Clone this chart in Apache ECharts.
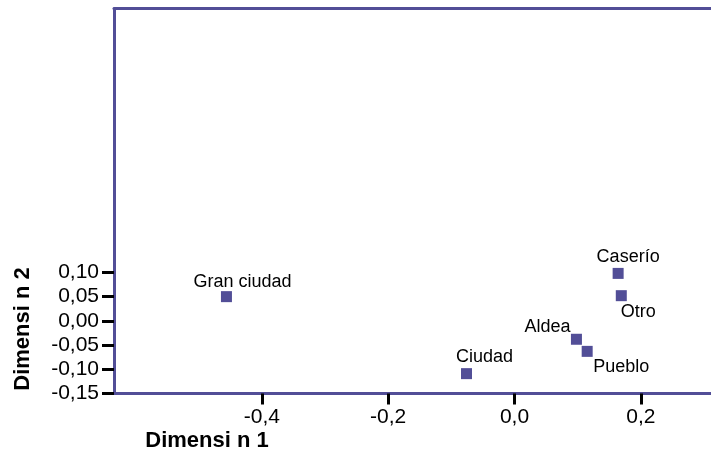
<!DOCTYPE html>
<html>
<head>
<meta charset="utf-8">
<script src="https://cdn.jsdelivr.net/npm/echarts@6/dist/echarts.min.js"></script>
<style>
  html, body { margin: 0; padding: 0; background: #fff; }
  #chart { width: 711px; height: 460px; }
</style>
</head>
<body>
<div id="chart"></div>
<script>
// Point names and their coordinates on the two dimensions
var names = ['Gran ciudad', 'Ciudad', 'Caserío', 'Otro', 'Aldea', 'Pueblo'];
var dim1 = [-0.456, -0.076, 0.164, 0.169, 0.098, 0.115];
var dim2 = [0.050, -0.109, 0.098, 0.052, -0.038, -0.063];

// Tick labels shown on each axis
var xTicks = [-0.4, -0.2, 0.0, 0.2];
var yTicks = [-0.15, -0.10, -0.05, 0.00, 0.05, 0.10];

// label placement (px, relative to the marker)
var labelOffset = {
    'Gran ciudad': [16, -15],
    'Ciudad': [18, -17],
    'Caserío': [10, -16],
    'Otro': [17, 16],
    'Aldea': [-29, -12],
    'Pueblo': [34, 16]
};

var purple = '#524e97';
var font = 'Liberation Sans';

var points = names.map(function (n, i) {
    return {
        name: n,
        value: [dim1[i], dim2[i]],
        label: { offset: labelOffset[n] }
    };
});

function comma(v, d) {
    return v.toFixed(d).replace('.', ',');
}

var frameLine = { show: true, onZero: false, lineStyle: { color: purple, width: 3 } };

var myChart = echarts.init(document.getElementById('chart'));

myChart.setOption({
    animation: false,
    grid: {
        left: 114,
        right: 0,
        top: 8.5,
        bottom: 66.5
    },
    xAxis: [
        {
            type: 'value',
            min: -0.634,
            max: 0.311,
            splitLine: { show: false },
            axisLine: frameLine,
            axisTick: {
                customValues: xTicks,
                length: 11,
                lineStyle: { color: '#000', width: 3 }
            },
            axisLabel: {
                customValues: xTicks,
                margin: 13,
                color: '#000',
                fontFamily: font,
                fontSize: 21,
                formatter: function (v) { return comma(v, 1); }
            }
        },
        {
            // top edge of the frame only
            type: 'value',
            position: 'top',
            min: -0.634,
            max: 0.311,
            splitLine: { show: false },
            axisLine: frameLine,
            axisTick: { show: false },
            axisLabel: { show: false }
        }
    ],
    yAxis: {
        type: 'value',
        min: -0.15,
        max: 0.645,
        splitLine: { show: false },
        axisLine: frameLine,
        axisTick: {
            customValues: yTicks,
            length: 12,
            lineStyle: { color: '#000', width: 3 }
        },
        axisLabel: {
            customValues: yTicks,
            margin: 15,
            color: '#000',
            fontFamily: font,
            fontSize: 21,
            formatter: function (v) { return comma(v, 2); }
        }
    },
    graphic: [
        {
            type: 'text',
            x: 207,
            y: 441,
            style: {
                text: 'Dimensi n 1',
                font: 'bold 22px "Liberation Sans"',
                fill: '#000',
                align: 'center',
                verticalAlign: 'middle'
            }
        },
        {
            type: 'text',
            x: 23,
            y: 329,
            rotation: Math.PI / 2,
            style: {
                text: 'Dimensi n 2',
                font: 'bold 22px "Liberation Sans"',
                fill: '#000',
                align: 'center',
                verticalAlign: 'middle'
            }
        }
    ],
    series: [
        {
            type: 'scatter',
            symbol: 'rect',
            symbolSize: 11,
            itemStyle: { color: purple, opacity: 1 },
            label: {
                show: true,
                position: 'inside',
                formatter: '{b}',
                color: '#000',
                fontFamily: font,
                fontSize: 18,
                align: 'center',
                verticalAlign: 'middle'
            },
            data: points
        }
    ]
});
</script>
</body>
</html>
